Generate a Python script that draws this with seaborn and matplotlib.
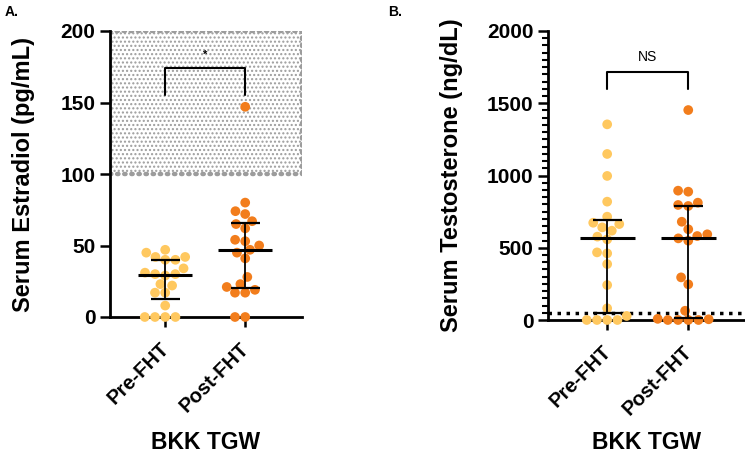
import numpy as np
import pandas as pd
import matplotlib
matplotlib.use('Agg')
import matplotlib.pyplot as plt
import matplotlib.transforms as mtransforms
import seaborn as sns

# Groups and colours
groups = ['Pre-FHT', 'Post-FHT']
palette = {'Pre-FHT': '#FFC85F', 'Post-FHT': '#F27D1C'}

# Panel A: serum estradiol (pg/mL)
estradiol_pre = [47, 45, 42, 42, 40, 40, 34, 31, 30, 30, 29, 23, 22, 17, 17, 8, 0, 0, 0, 0]
estradiol_post = [147, 80, 74, 72, 67, 65, 62, 54, 53, 50, 47, 45, 41, 28, 23, 21, 19, 17, 17, 0, 0]
estradiol_median = [29.5, 46.6]
estradiol_q1 = [12.8, 20.0]
estradiol_q3 = [40.0, 66.0]

# Panel B: serum testosterone (ng/dL)
testo_pre = [1354, 1149, 997, 819, 715, 673, 664, 641, 618, 577, 558, 468, 461, 387, 242, 81, 28, 0, 0, 0, 0]
testo_post = [1453, 895, 888, 812, 796, 789, 680, 628, 593, 581, 565, 549, 295, 247, 64, 8, 5, 0, 0, 0, 0]
testo_median = [565, 570]
testo_q1 = [50, 12]
testo_q3 = [692, 791]

# reference ranges
estradiol_band = (100, 200)
testo_cutoff = 50

df_e = pd.DataFrame({'group': ['Pre-FHT'] * len(estradiol_pre) + ['Post-FHT'] * len(estradiol_post),
                     'value': estradiol_pre + estradiol_post})
df_t = pd.DataFrame({'group': ['Pre-FHT'] * len(testo_pre) + ['Post-FHT'] * len(testo_post),
                     'value': testo_pre + testo_post})

sns.set_style('ticks')
plt.rcParams['font.family'] = ['Liberation Sans', 'DejaVu Sans']
plt.rcParams['font.weight'] = 'bold'
plt.rcParams['text.color'] = 'black'
plt.rcParams['axes.labelcolor'] = 'black'
plt.rcParams['xtick.color'] = 'black'
plt.rcParams['ytick.color'] = 'black'
plt.rcParams['axes.edgecolor'] = 'black'
plt.rcParams['hatch.linewidth'] = 1.0

fig = plt.figure(figsize=(7.45, 4.55), dpi=100)
ax1 = fig.add_axes([110 / 745, 138 / 455, 192 / 745, 286 / 455])
ax2 = fig.add_axes([548 / 745, 135 / 455, 197 / 745, 289 / 455])


def draw_panel(ax, df, med, q1, q3, ylabel):
    sns.swarmplot(data=df, x='group', y='value', hue='group', order=groups,
                  palette=palette, legend=False, size=7, linewidth=0, ax=ax,
                  zorder=4, clip_on=False)
    xs = np.arange(len(groups))
    ax.hlines(med, xs - 0.34, xs + 0.34, color='black', lw=2.2, zorder=5)
    ax.hlines(q1, xs - 0.18, xs + 0.18, color='black', lw=1.6, zorder=5)
    ax.hlines(q3, xs - 0.18, xs + 0.18, color='black', lw=1.6, zorder=5)
    ax.vlines(xs, q1, q3, color='black', lw=1.3, zorder=5)
    sns.despine(ax=ax)
    for s in ['left', 'bottom']:
        ax.spines[s].set_linewidth(2.0)
    ax.tick_params(axis='both', which='major', width=1.8, length=7, labelsize=15)
    ax.tick_params(axis='x', pad=9)
    ax.set_xticks(xs)
    ax.set_xticklabels(groups, rotation=45, ha='right', rotation_mode='anchor',
                       fontweight='bold', fontsize=14.5)
    # nudge rotated labels a little to the left
    shift = mtransforms.ScaledTranslation(-6 / 100, 0, fig.dpi_scale_trans)
    for lab in ax.get_xticklabels():
        lab.set_transform(lab.get_transform() + shift)
    ax.set_ylabel(ylabel, fontsize=17, fontweight='bold')
    ax.set_xlabel('BKK TGW', fontsize=16.5, fontweight='bold')


# Panel A
draw_panel(ax1, df_e, estradiol_median, estradiol_q1, estradiol_q3, 'Serum Estradiol (pg/mL)')
ax1.set_xlim(-0.69, 1.71)
ax1.set_ylim(0, 200)
ax1.set_yticks([0, 50, 100, 150, 200])
band = ax1.axhspan(*estradiol_band, facecolor='none', edgecolor='#9c9c9c', hatch='....',
                   linewidth=3.2, linestyle=(0, (0.3, 1.3)), zorder=1)
band.set_capstyle('round')
ax1.plot([0, 0, 1, 1], [155, 174, 174, 155], color='black', lw=1.5, zorder=5)
ax1.text(0.5, 183, '*', ha='center', va='center', fontsize=8)
ax1.yaxis.set_label_coords(-0.39, 0.5)
ax1.xaxis.set_label_coords(0.5, -0.40)

# Panel B
draw_panel(ax2, df_t, testo_median, testo_q1, testo_q3, 'Serum Testosterone (ng/dL)')
ax2.set_xlim(-0.73, 1.70)
ax2.set_ylim(0, 2000)
ax2.set_yticks([0, 500, 1000, 1500, 2000])
ax2.set_yticks(np.arange(0, 2001, 50), minor=True)
ax2.tick_params(axis='y', which='minor', width=1.5, length=4)
ax2.axhline(testo_cutoff, color='black', lw=2.5, linestyle=(0, (1, 1.6)), zorder=3)
ax2.plot([0, 0, 1, 1], [1596, 1718, 1718, 1596], color='black', lw=1.5, zorder=5)
ax2.text(0.5, 1820, 'NS', ha='center', va='center', fontsize=10, fontweight='normal')
ax2.yaxis.set_label_coords(-0.43, 0.5)
ax2.xaxis.set_label_coords(0.5, -0.385)

fig.text(5 / 745, 1 - 12 / 455, 'A.', fontsize=10, fontweight='bold', va='center')
fig.text(388 / 745, 1 - 12 / 455, 'B.', fontsize=10, fontweight='bold', va='center')

fig.savefig('out.png', dpi=100)
